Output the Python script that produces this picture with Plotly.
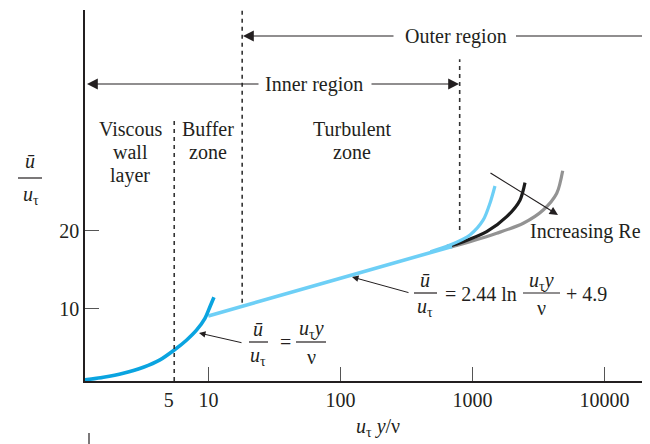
import plotly.graph_objects as go

# ---------------- data ----------------
visc_x = [1.15, 1.60, 2.26, 3.21, 4.29, 5.60, 6.84, 8.14, 9.40, 10.26, 11.0]
visc_y = [0.93, 1.28, 1.79, 2.55, 3.49, 4.85, 6.04, 7.32, 8.81, 10.29, 11.49]

log_x = [9.96, 100, 700]
log_y = [9.11, 13.92, 17.99]

re1_x = [480, 676, 957, 1207, 1357, 1481]
re1_y = [17.3, 18.17, 19.46, 21.37, 23.5, 25.71]

re2_x = [638, 852, 1282, 1817, 2290, 2500]
re2_y = [17.96, 18.6, 19.87, 21.79, 23.9, 26.13]

re3_x = [676, 957, 1525, 2427, 3436, 4350, 4825]
re3_y = [17.88, 18.6, 19.67, 20.95, 22.64, 24.78, 27.66]

zone_x = [5.5, 18, 800]
zone_y0 = [0.8, 10.8, 20.1]
zone_y1 = [34.4, 48.3, 41.9]

x_tickvals = [5, 10, 100, 1000, 10000]
x_ticktext = ["5", "10", "100", "1000", "10000"]
x_tickmarks = [10, 100, 1000, 10000]
y_tickvals = [10, 20]

# ---------------- style ----------------
FONT = "Liberation Serif"
TXT = "#231F20"
FS = 20
OFF = 8                      # page body margin of the browser
W, H = 650 - OFF, 444 - OFF  # figure size so it fills the window exactly
L, R, T, B = 85 - OFF, 0, 10 - OFF, 63
PW, PH = W - L - R, H - T - B


def P(px, py):
    """window pixel -> paper coordinates"""
    fx, fy = px - OFF, py - OFF
    return (fx - L) / PW, (H - B - fy) / PH


fig = go.Figure()

for xs, ys, c, w in [
    (re3_x, re3_y, "#939393", 3.2),
    (re2_x, re2_y, "#1c1c1c", 3.2),
    (re1_x, re1_y, "#6DCFF6", 3.2),
    (log_x, log_y, "#6DCFF6", 3.6),
    (visc_x, visc_y, "#0AA4E0", 3.6),
]:
    fig.add_trace(go.Scatter(x=xs, y=ys, mode="lines",
                             line=dict(color=c, width=w, shape="spline", smoothing=0.8),
                             hoverinfo="skip", showlegend=False))

for zx, a, b in zip(zone_x, zone_y0, zone_y1):
    fig.add_trace(go.Scatter(x=[zx, zx], y=[a, b], mode="lines",
                             line=dict(color="#333333", width=1.6, dash="4px,4px"),
                             hoverinfo="skip", showlegend=False))

ann = []
shapes = []


def text(px, py, s, size=FS, xanchor="center"):
    x, y = P(px, py)
    ann.append(dict(x=x, y=y, xref="paper", yref="paper", text=s, showarrow=False,
                    xanchor=xanchor, yanchor="middle",
                    font=dict(family=FONT, size=size, color=TXT)))


def hline(x0, x1, py, width=1.2, color=TXT):
    a, y = P(x0, py)
    b, _ = P(x1, py)
    shapes.append(dict(type="line", xref="paper", yref="paper", x0=a, x1=b, y0=y, y1=y,
                       line=dict(color=color, width=width)))


def arrow(hx, hy, tx, ty, size=1.6, width=1.2):
    x, y = P(hx, hy)
    ann.append(dict(x=x, y=y, xref="paper", yref="paper", text="", showarrow=True,
                    ax=tx - hx, ay=ty - hy, arrowhead=2, arrowsize=size,
                    arrowwidth=width, arrowcolor=TXT, standoff=0))


U = "<i>ū</i>"
UT = "<i>u</i><sub>τ</sub>"
UTY = "<i>u</i><sub>τ</sub><i>y</i>"

# region labels
text(130, 129, "Viscous")
text(130, 152, "wall")
text(130, 175, "layer")
text(208, 129, "Buffer")
text(208, 152, "zone")
text(352, 129, "Turbulent")
text(352, 152, "zone")

# outer / inner region arrows
arrow(243, 36, 395, 36, size=1.8)
text(456, 36, "Outer region")
hline(516, 650, 36)
arrow(87, 84, 260, 84, size=1.8)
text(314, 84, "Inner region")
arrow(459, 84, 370, 84, size=1.8)

# increasing Re
arrow(558, 215, 489, 172, size=1.4)
text(528, 231, "Increasing Re", xanchor="left")

# viscous law label
text(258, 329, U)
hline(249, 268, 342)
text(258, 356, UT)
text(285, 342, "=")
text(311, 329, UTY)
hline(296, 326, 342)
text(311, 357, "ν")
arrow(199, 333, 243, 343, size=1.3, width=1.0)

# log law label
text(425, 280, U)
hline(414, 437, 293)
text(425, 307, UT)
text(443, 294, "= 2.44 ln", xanchor="left")
text(541, 281, UTY)
hline(523, 560, 293)
text(541, 308, "ν")
text(564, 294, "+ 4.9", xanchor="left")
arrow(352, 277, 410, 293, size=1.3, width=1.0)

# y axis title
text(30, 161, U)
hline(18, 42, 178)
text(31, 195, UT)

# x axis title
text(378, 427, "<i>u</i><sub>τ</sub> <i>y</i>/ν")

# small mark at the bottom
xa, ya = P(89, 433)
xb, yb = P(89, 444)
shapes.append(dict(type="line", xref="paper", yref="paper", x0=xa, x1=xb, y0=ya, y1=yb,
                   line=dict(color=TXT, width=1.2)))

fig.update_layout(
    width=W, height=H,
    margin=dict(l=L, r=R, t=T, b=B, pad=0),
    paper_bgcolor="white", plot_bgcolor="white",
    showlegend=False,
    annotations=ann, shapes=shapes,
    xaxis=dict(type="log", range=[0.0644, 4.345], showline=True, linecolor=TXT, linewidth=1.5,
               ticks="", tickvals=x_tickvals, ticktext=x_ticktext,
               tickfont=dict(family=FONT, size=FS, color=TXT),
               showgrid=False, zeroline=False, fixedrange=True,
               minor=dict(tickvals=x_tickmarks, ticks="inside", ticklen=14,
                          tickcolor="#555555", tickwidth=1.2, showgrid=False)),
    yaxis=dict(range=[0.80, 48.19], showline=True, linecolor=TXT, linewidth=1.5,
               ticks="inside", ticklen=14, tickcolor="#555555", tickwidth=1.2,
               tickvals=y_tickvals, tickfont=dict(family=FONT, size=FS, color=TXT),
               showgrid=False, zeroline=False, fixedrange=True),
)

fig.write_html("out.html")
